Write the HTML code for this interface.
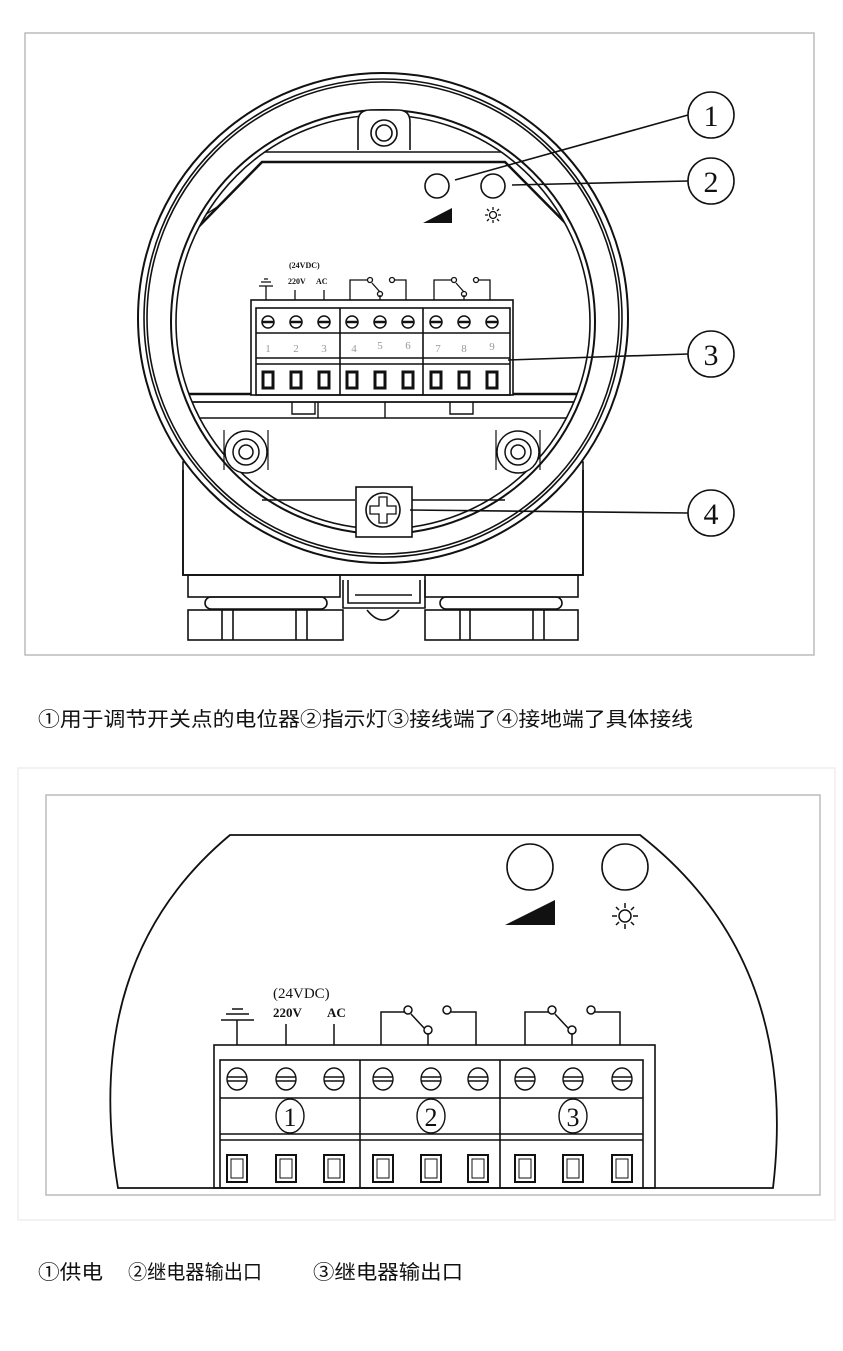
<!DOCTYPE html>
<html><head><meta charset="utf-8"><style>
html,body{margin:0;padding:0;background:#fff;}
svg{display:block}
text{font-family:"Liberation Serif","Noto Serif CJK SC",serif;}
.cap{font-family:"Liberation Sans","Noto Sans CJK SC",sans-serif;font-size:20px;fill:#111;stroke:none}
</style></head><body>
<svg width="843" height="1351" viewBox="0 0 843 1351" xmlns="http://www.w3.org/2000/svg" fill="none" stroke="#111" stroke-width="1.6">
<defs>
<clipPath id="cin"><circle cx="383" cy="322" r="207"/></clipPath>
</defs>
<rect x="25" y="33" width="789" height="622" stroke="#bbb" stroke-width="1.5"/>
<rect x="183" y="462" width="400" height="113" fill="#fff"/>
<circle cx="383" cy="318" r="245" fill="#fff" stroke-width="2"/>
<circle cx="383" cy="318" r="239"/>
<circle cx="383" cy="318" r="236"/>
<circle cx="383" cy="322" r="212" stroke-width="2"/>
<circle cx="383" cy="322" r="207"/>
<path d="M358 150 V122 Q358 110 370 110 H398 Q410 110 410 122 V150" fill="#fff"/>
<circle cx="384" cy="133" r="13"/><circle cx="384" cy="133" r="8"/>
<g clip-path="url(#cin)">
<path d="M256 152 H510 L610 250 V402 H160 V250 Z" stroke-width="1.5"/>
<path d="M262 162 H505 L600 258 V394 H168 V258 Z" stroke-width="2.5"/>
<line x1="160" y1="394" x2="610" y2="394"/>
<line x1="160" y1="402" x2="610" y2="402"/>
<line x1="160" y1="418" x2="610" y2="418"/>
<path d="M210 200 L222 190 M205 215 L220 205 M550 190 L562 200 M556 205 L570 215" stroke-width="1.2"/>
</g>
<path d="M292 402 V414 H315 V402 M318 402 V418 M385 402 V418 M450 402 V414 H473 V402" stroke-width="1.4"/>
<circle cx="437" cy="186" r="12"/>
<circle cx="493" cy="186" r="12"/>
<polygon points="423,223 452,208 452,223" fill="#111" stroke="none"/>
<g stroke-width="1.3"><circle cx="493" cy="215" r="3.5"/><path d="M493 207v3M493 220v3M485 215h3M498 215h3M487 209l2 2M497 219l2 2M499 209l-2 2M487 221l2-2"/></g>
<rect x="251" y="300" width="262" height="95" fill="#fff"/>
<rect x="256" y="308" width="254" height="87"/>
<line x1="256" y1="333" x2="510" y2="333"/>
<line x1="256" y1="358" x2="510" y2="358"/>
<line x1="256" y1="364" x2="510" y2="364"/>
<line x1="340" y1="308" x2="340" y2="395"/>
<line x1="423" y1="308" x2="423" y2="395"/>
<g stroke-width="1.5">
<circle cx="268" cy="322" r="6"/><line x1="262" y1="322" x2="274" y2="322" stroke-width="2.5"/>
<circle cx="296" cy="322" r="6"/><line x1="290" y1="322" x2="302" y2="322" stroke-width="2.5"/>
<circle cx="324" cy="322" r="6"/><line x1="318" y1="322" x2="330" y2="322" stroke-width="2.5"/>
<circle cx="352" cy="322" r="6"/><line x1="346" y1="322" x2="358" y2="322" stroke-width="2.5"/>
<circle cx="380" cy="322" r="6"/><line x1="374" y1="322" x2="386" y2="322" stroke-width="2.5"/>
<circle cx="408" cy="322" r="6"/><line x1="402" y1="322" x2="414" y2="322" stroke-width="2.5"/>
<circle cx="436" cy="322" r="6"/><line x1="430" y1="322" x2="442" y2="322" stroke-width="2.5"/>
<circle cx="464" cy="322" r="6"/><line x1="458" y1="322" x2="470" y2="322" stroke-width="2.5"/>
<circle cx="492" cy="322" r="6"/><line x1="486" y1="322" x2="498" y2="322" stroke-width="2.5"/>
</g>
<g fill="#999" stroke="none" font-size="11" text-anchor="middle">
<text x="268" y="352">1</text><text x="296" y="352">2</text><text x="324" y="352">3</text>
<text x="354" y="352">4</text><text x="380" y="349">5</text><text x="408" y="349">6</text>
<text x="438" y="352">7</text><text x="464" y="352">8</text><text x="492" y="350">9</text>
</g>
<g stroke-width="3">
<rect x="263" y="372" width="10" height="16"/><rect x="291" y="372" width="10" height="16"/><rect x="319" y="372" width="10" height="16"/>
<rect x="347" y="372" width="10" height="16"/><rect x="375" y="372" width="10" height="16"/><rect x="403" y="372" width="10" height="16"/>
<rect x="431" y="372" width="10" height="16"/><rect x="459" y="372" width="10" height="16"/><rect x="487" y="372" width="10" height="16"/>
</g>
<g stroke-width="1.3">
<path d="M266 300 V286 M259 286 H273 M261 282 H271 M264 279 H268"/>
<path d="M295 300 V290 M324 300 V290"/>
<path d="M350 300 V280 H368 M372 283 L380 292 M380 300 V295 M395 280 H406 V300"/>
<circle cx="370" cy="280" r="2.5"/><circle cx="380" cy="294" r="2.5"/><circle cx="392" cy="280" r="2.5"/>
<path d="M434 300 V280 H452 M456 283 L464 292 M464 300 V295 M479 280 H490 V300"/>
<circle cx="454" cy="280" r="2.5"/><circle cx="464" cy="294" r="2.5"/><circle cx="476" cy="280" r="2.5"/>
</g>
<g fill="#111" stroke="none" font-size="8" font-weight="bold" font-family="Liberation Sans,sans-serif">
<text x="289" y="268">(24VDC)</text><text x="288" y="284">220V</text><text x="316" y="284">AC</text>
</g>
<g stroke-width="1.5">
<circle cx="246" cy="452" r="21" fill="#fff"/><circle cx="246" cy="452" r="13"/><circle cx="246" cy="452" r="7"/>
<circle cx="518" cy="452" r="21" fill="#fff"/><circle cx="518" cy="452" r="13"/><circle cx="518" cy="452" r="7"/>
<path d="M224 430 V470 M268 430 V470 M496 430 V470 M540 430 V470" stroke-width="1.2"/>
</g>
<path d="M183 470 V575 H583 V470" stroke-width="1.8"/>
<line x1="262" y1="500" x2="355" y2="500"/><line x1="412" y1="500" x2="505" y2="500"/>
<rect x="356" y="487" width="56" height="50" fill="#fff"/>
<circle cx="383" cy="510" r="17"/>
<path d="M379 497 H387 V506 H396 V514 H387 V523 H379 V514 H370 V506 H379 Z" stroke-width="1.3"/>
<rect x="188" y="575" width="152" height="22"/><rect x="425" y="575" width="153" height="22"/>
<rect x="205" y="597" width="122" height="12" rx="6"/><rect x="440" y="597" width="122" height="12" rx="6"/>
<rect x="188" y="610" width="155" height="30"/><rect x="425" y="610" width="153" height="30"/>
<path d="M222 610 V640 M233 610 V640 M296 610 V640 M307 610 V640 M460 610 V640 M470 610 V640 M533 610 V640 M544 610 V640"/>
<path d="M343 580 V608 H425 V580 M348 580 V603 H420 V580 M355 595 H412"/>
<path d="M367 610 Q383 630 399 610"/>
<g stroke-width="1.6">
<circle cx="711" cy="115" r="23" fill="#fff"/><circle cx="711" cy="181" r="23" fill="#fff"/>
<circle cx="711" cy="354" r="23" fill="#fff"/><circle cx="711" cy="513" r="23" fill="#fff"/>
<line x1="688" y1="115" x2="455" y2="180"/>
<line x1="688" y1="181" x2="512" y2="185"/>
<line x1="688" y1="354" x2="508" y2="360"/>
<line x1="688" y1="513" x2="410" y2="510"/>
</g>
<g fill="#111" stroke="none" font-size="30" text-anchor="middle">
<text x="711" y="126">1</text><text x="711" y="192">2</text><text x="711" y="365">3</text><text x="711" y="524">4</text>
</g>
<text class="cap" x="38" y="726" stroke="none" textLength="655" lengthAdjust="spacingAndGlyphs">①用于调节开关点的电位器②指示灯③接线端了④接地端了具体接线</text>

<rect x="18" y="768" width="817" height="452" stroke="#eee" stroke-width="1.5"/>
<rect x="46" y="795" width="774" height="400" stroke="#bbb" stroke-width="1.5"/>
<path d="M118 1188 Q80 960 230 835 H640 Q800 960 773 1188 Z" stroke-width="1.8"/>
<circle cx="530" cy="867" r="23"/><circle cx="625" cy="867" r="23"/>
<polygon points="505,925 555,900 555,925" fill="#111" stroke="none"/>
<g stroke-width="1.5"><circle cx="625" cy="916" r="6"/><path d="M625 903v5M625 924v5M612 916h5M633 916h5M616 907l3 3M631 922l3 3M634 907l-3 3M616 925l3-3"/></g>
<rect x="214" y="1045" width="441" height="143"/>
<rect x="220" y="1060" width="423" height="128"/>
<line x1="220" y1="1098" x2="643" y2="1098"/>
<line x1="220" y1="1134" x2="643" y2="1134"/>
<line x1="220" y1="1140" x2="643" y2="1140"/>
<line x1="360" y1="1060" x2="360" y2="1188"/>
<line x1="500" y1="1060" x2="500" y2="1188"/>
<g stroke-width="1.4">
<g transform="translate(237,1079)"><ellipse rx="10" ry="11"/><path d="M-10 -2H10M-10 2H10"/></g>
<g transform="translate(286,1079)"><ellipse rx="10" ry="11"/><path d="M-10 -2H10M-10 2H10"/></g>
<g transform="translate(334,1079)"><ellipse rx="10" ry="11"/><path d="M-10 -2H10M-10 2H10"/></g>
<g transform="translate(383,1079)"><ellipse rx="10" ry="11"/><path d="M-10 -2H10M-10 2H10"/></g>
<g transform="translate(431,1079)"><ellipse rx="10" ry="11"/><path d="M-10 -2H10M-10 2H10"/></g>
<g transform="translate(478,1079)"><ellipse rx="10" ry="11"/><path d="M-10 -2H10M-10 2H10"/></g>
<g transform="translate(525,1079)"><ellipse rx="10" ry="11"/><path d="M-10 -2H10M-10 2H10"/></g>
<g transform="translate(573,1079)"><ellipse rx="10" ry="11"/><path d="M-10 -2H10M-10 2H10"/></g>
<g transform="translate(622,1079)"><ellipse rx="10" ry="11"/><path d="M-10 -2H10M-10 2H10"/></g>
</g>
<g stroke-width="2">
<rect x="227" y="1155" width="20" height="27"/><rect x="276" y="1155" width="20" height="27"/><rect x="324" y="1155" width="20" height="27"/>
<rect x="373" y="1155" width="20" height="27"/><rect x="421" y="1155" width="20" height="27"/><rect x="468" y="1155" width="20" height="27"/>
<rect x="515" y="1155" width="20" height="27"/><rect x="563" y="1155" width="20" height="27"/><rect x="612" y="1155" width="20" height="27"/>
</g>
<g stroke-width="1">
<rect x="231" y="1159" width="12" height="19"/><rect x="280" y="1159" width="12" height="19"/><rect x="328" y="1159" width="12" height="19"/>
<rect x="377" y="1159" width="12" height="19"/><rect x="425" y="1159" width="12" height="19"/><rect x="472" y="1159" width="12" height="19"/>
<rect x="519" y="1159" width="12" height="19"/><rect x="567" y="1159" width="12" height="19"/><rect x="616" y="1159" width="12" height="19"/>
</g>
<g stroke-width="1.4">
<ellipse cx="290" cy="1116" rx="14" ry="17"/><ellipse cx="431" cy="1116" rx="14" ry="17"/><ellipse cx="573" cy="1116" rx="14" ry="17"/>
</g>
<g fill="#111" stroke="none" font-size="26" text-anchor="middle">
<text x="290" y="1126">1</text><text x="431" y="1126">2</text><text x="573" y="1126">3</text>
</g>
<g stroke-width="1.5">
<path d="M237 1045 V1020 M221 1020 H254 M226 1014 H249 M232 1009 H243"/>
<path d="M286 1045 V1024 M334 1045 V1024"/>
<path d="M381 1045 V1012 H405 M411 1014 L424 1028 M428 1045 V1033 M451 1012 H476 V1045"/>
<circle cx="408" cy="1010" r="4"/><circle cx="428" cy="1030" r="4"/><circle cx="447" cy="1010" r="4"/>
<path d="M525 1045 V1012 H549 M555 1014 L568 1028 M572 1045 V1033 M595 1012 H620 V1045"/>
<circle cx="552" cy="1010" r="4"/><circle cx="572" cy="1030" r="4"/><circle cx="591" cy="1010" r="4"/>
</g>
<g fill="#111" stroke="none">
<text x="273" y="998" font-size="15">(24VDC)</text>
<text x="273" y="1017" font-size="13" font-weight="bold" font-family="Liberation Sans,sans-serif">220V</text>
<text x="327" y="1017" font-size="13" font-weight="bold" font-family="Liberation Sans,sans-serif">AC</text>
</g>
<text class="cap" x="38" y="1279" stroke="none" textLength="65" lengthAdjust="spacingAndGlyphs">①供电</text>
<text class="cap" x="128" y="1279" stroke="none" textLength="134" lengthAdjust="spacingAndGlyphs">②继电器输出口</text>
<text class="cap" x="313" y="1279" stroke="none" textLength="150" lengthAdjust="spacingAndGlyphs">③继电器输出口</text>
</svg>
</body></html>
